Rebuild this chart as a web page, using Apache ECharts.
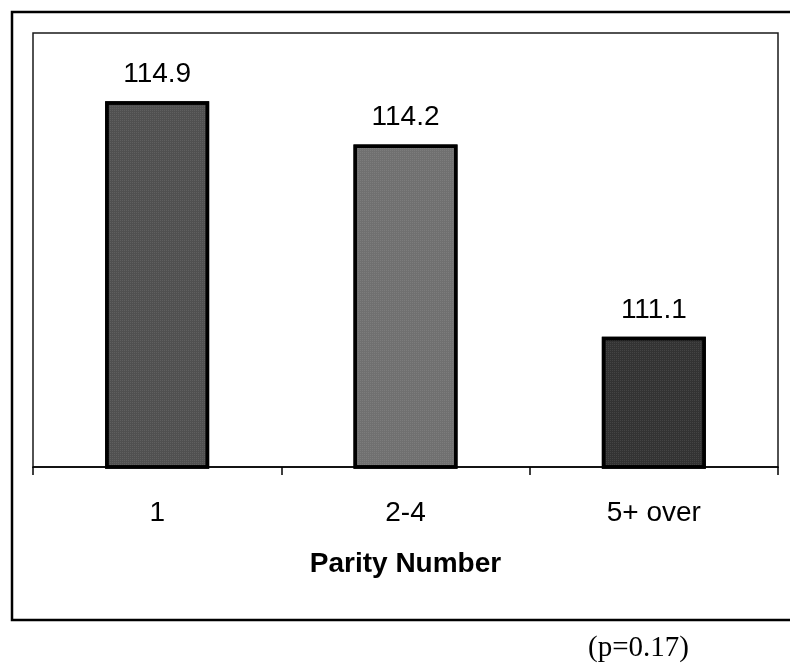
<!DOCTYPE html>
<html>
<head>
<meta charset="utf-8">
<script src="https://cdn.jsdelivr.net/npm/echarts@6/dist/echarts.min.js"></script>
<style>
  html, body { margin: 0; padding: 0; background: #fff; }
  #chart { width: 790px; height: 665px; }
</style>
</head>
<body>
<div id="chart"></div>
<script>
// Mean value by parity group
const categories = ['1', '2-4', '5+ over'];
const values = [114.9, 114.2, 111.1];
const barFills = ['#505050', '#707070', '#333333'];
const axisTitle = 'Parity Number';
const footnote = '(p=0.17)';

const sans = '"Liberation Sans", Arial, Helvetica, sans-serif';

const chart = echarts.init(document.getElementById('chart'), null, { renderer: 'canvas' });

const option = {
  backgroundColor: '#ffffff',
  animation: false,
  grid: {
    left: 33, top: 33, width: 745, height: 434,
    show: true, borderColor: '#1a1a1a', borderWidth: 1.5, backgroundColor: 'transparent'
  },
  xAxis: {
    type: 'category',
    data: categories,
    boundaryGap: true,
    axisLine: { show: true, lineStyle: { color: '#000', width: 1.5 } },
    axisTick: { show: true, inside: false, length: 8, lineStyle: { color: '#000', width: 1.5 } },
    axisLabel: { margin: 32, color: '#000', fontFamily: sans, fontSize: 28 },
    name: axisTitle,
    nameLocation: 'middle',
    nameGap: 83,
    nameTextStyle: { color: '#000', fontFamily: sans, fontSize: 28, fontWeight: 'bold' }
  },
  yAxis: {
    type: 'value',
    min: 109, max: 116,
    show: false
  },
  series: [{
    type: 'bar',
    barWidth: 104,
    data: values.map((v, i) => ({
      value: v,
      itemStyle: {
        color: barFills[i],
        borderColor: '#000',
        borderWidth: 3.5,
        decal: {
          symbol: 'rect', symbolSize: 0.5, dashArrayX: [1, 1], dashArrayY: [1, 1],
          color: 'rgba(255,255,255,0.35)', rotation: 0
        }
      }
    })),
    label: {
      show: true, position: 'top', distance: 13,
      color: '#000', fontFamily: sans, fontSize: 28,
      formatter: p => p.value.toFixed(1)
    }
  }],
  graphic: [
    {
      type: 'rect', silent: true, z: -1,
      shape: { x: 12, y: 12, width: 800, height: 608 },
      style: { fill: 'none', stroke: '#000', lineWidth: 2.5 }
    },
    {
      type: 'text', left: 588, top: 634,
      style: {
        text: footnote, fill: '#000',
        font: '29px "Liberation Serif", "Times New Roman", serif'
      }
    }
  ]
};

chart.setOption(option);
</script>
</body>
</html>
